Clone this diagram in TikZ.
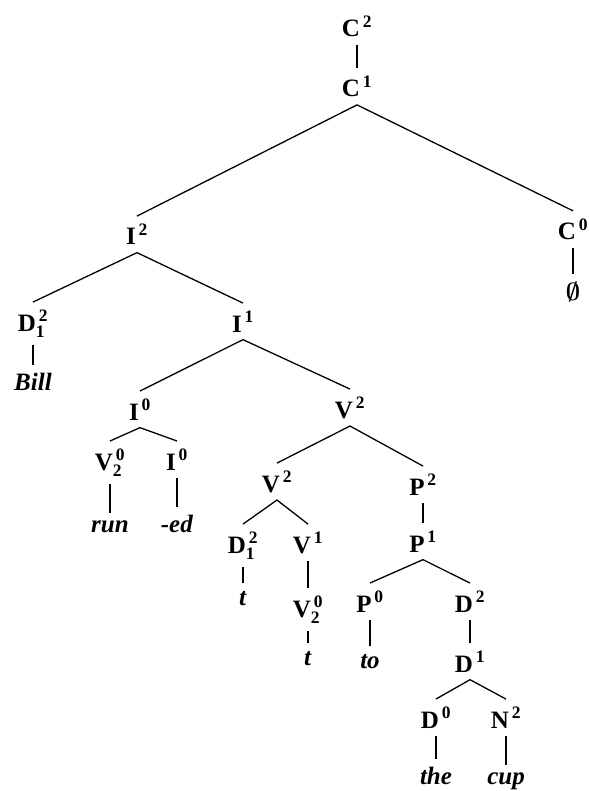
\documentclass[tikz,border=0pt]{standalone}
\usepackage{amsmath}
\usepackage{fontspec}
\setmainfont{Liberation Serif}
\newcommand{\xcat}[2]{$\text{#1}^{\,\text{#2}}$}
\newcommand{\xcatt}[3]{$\text{#1}^{\,\text{#2}}_{\text{#3}}$}
\begin{document}
\begin{tikzpicture}[x=1pt, y=-1pt, line width=1.3pt,
  every node/.style={anchor=base, inner xsep=1pt, inner ysep=7pt,
    font=\fontsize{25}{28}\selectfont\bfseries}]
  \useasboundingbox (0,0) rectangle (588,791);
  % category labels, placed at their baselines
  \node (C2)   at (357,37)  {\xcat{C}{2}};
  \node (C1)   at (357,97)  {\xcat{C}{1}};
  \node (I2)   at (137,245) {\xcat{I}{2}};
  \node (C0)   at (573,240) {\xcat{C}{0}};
  \node (D12a) at (33,331)  {\xcatt{D}{2}{1}};
  \node (I1)   at (243,332) {\xcat{I}{1}};
  \node (I0a)  at (140,420) {\xcat{I}{0}};
  \node (V2a)  at (350,418) {\xcat{V}{2}};
  \node (V02a) at (110,470) {\xcatt{V}{0}{2}};
  \node (I0b)  at (177,470) {\xcat{I}{0}};
  \node (V2b)  at (277,492) {\xcat{V}{2}};
  \node (P2)   at (423,495) {\xcat{P}{2}};
  \node (D12b) at (243,553) {\xcatt{D}{2}{1}};
  \node (V1)   at (308,553) {\xcat{V}{1}};
  \node (P1)   at (423,552) {\xcat{P}{1}};
  \node (V02b) at (308,617) {\xcatt{V}{0}{2}};
  \node (P0)   at (370,612) {\xcat{P}{0}};
  \node (D2)   at (470,612) {\xcat{D}{2}};
  \node (D1)   at (470,672) {\xcat{D}{1}};
  \node (D0)   at (436,728) {\xcat{D}{0}};
  \node (N2)   at (506,728) {\xcat{N}{2}};
  % the words
  \node (wnull) at (573,300) {$\boldsymbol{\emptyset}$};
  \node (wBill) at (33,390)  {\textit{Bill}};
  \node (wrun)  at (110,532) {\textit{run}};
  \node (wed)   at (177,532) {\textit{-ed}};
  \node (wt1)   at (243,605) {\textit{t}};
  \node (wt2)   at (308,665) {\textit{t}};
  \node (wto)   at (370,668) {\textit{to}};
  \node (wthe)  at (436,784) {\textit{the}};
  \node (wcup)  at (506,784) {\textit{cup}};
  % branches
  \draw (C2.south) -- (C1.north);
  \draw (I2.north) -- (C1.south) -- (C0.north);
  \draw (C0.south) -- (wnull.north);
  \draw (D12a.north) -- (I2.south) -- (I1.north);
  \draw (D12a.south) -- (wBill.north);
  \draw (I0a.north) -- (I1.south) -- (V2a.north);
  \draw (V02a.north) -- (I0a.south) -- (I0b.north);
  \draw (V02a.south) -- (wrun.north);
  \draw (I0b.south) -- (wed.north);
  \draw (V2b.north) -- (V2a.south) -- (P2.north);
  \draw (D12b.north) -- (V2b.south) -- (V1.north);
  \draw (D12b.south) -- (wt1.north);
  \draw (V1.south) -- (V02b.north);
  \draw (V02b.south) -- (wt2.north);
  \draw (P2.south) -- (P1.north);
  \draw (P0.north) -- (P1.south) -- (D2.north);
  \draw (P0.south) -- (wto.north);
  \draw (D2.south) -- (D1.north);
  \draw (D0.north) -- (D1.south) -- (N2.north);
  \draw (D0.south) -- (wthe.north);
  \draw (N2.south) -- (wcup.north);
\end{tikzpicture}
\end{document}
